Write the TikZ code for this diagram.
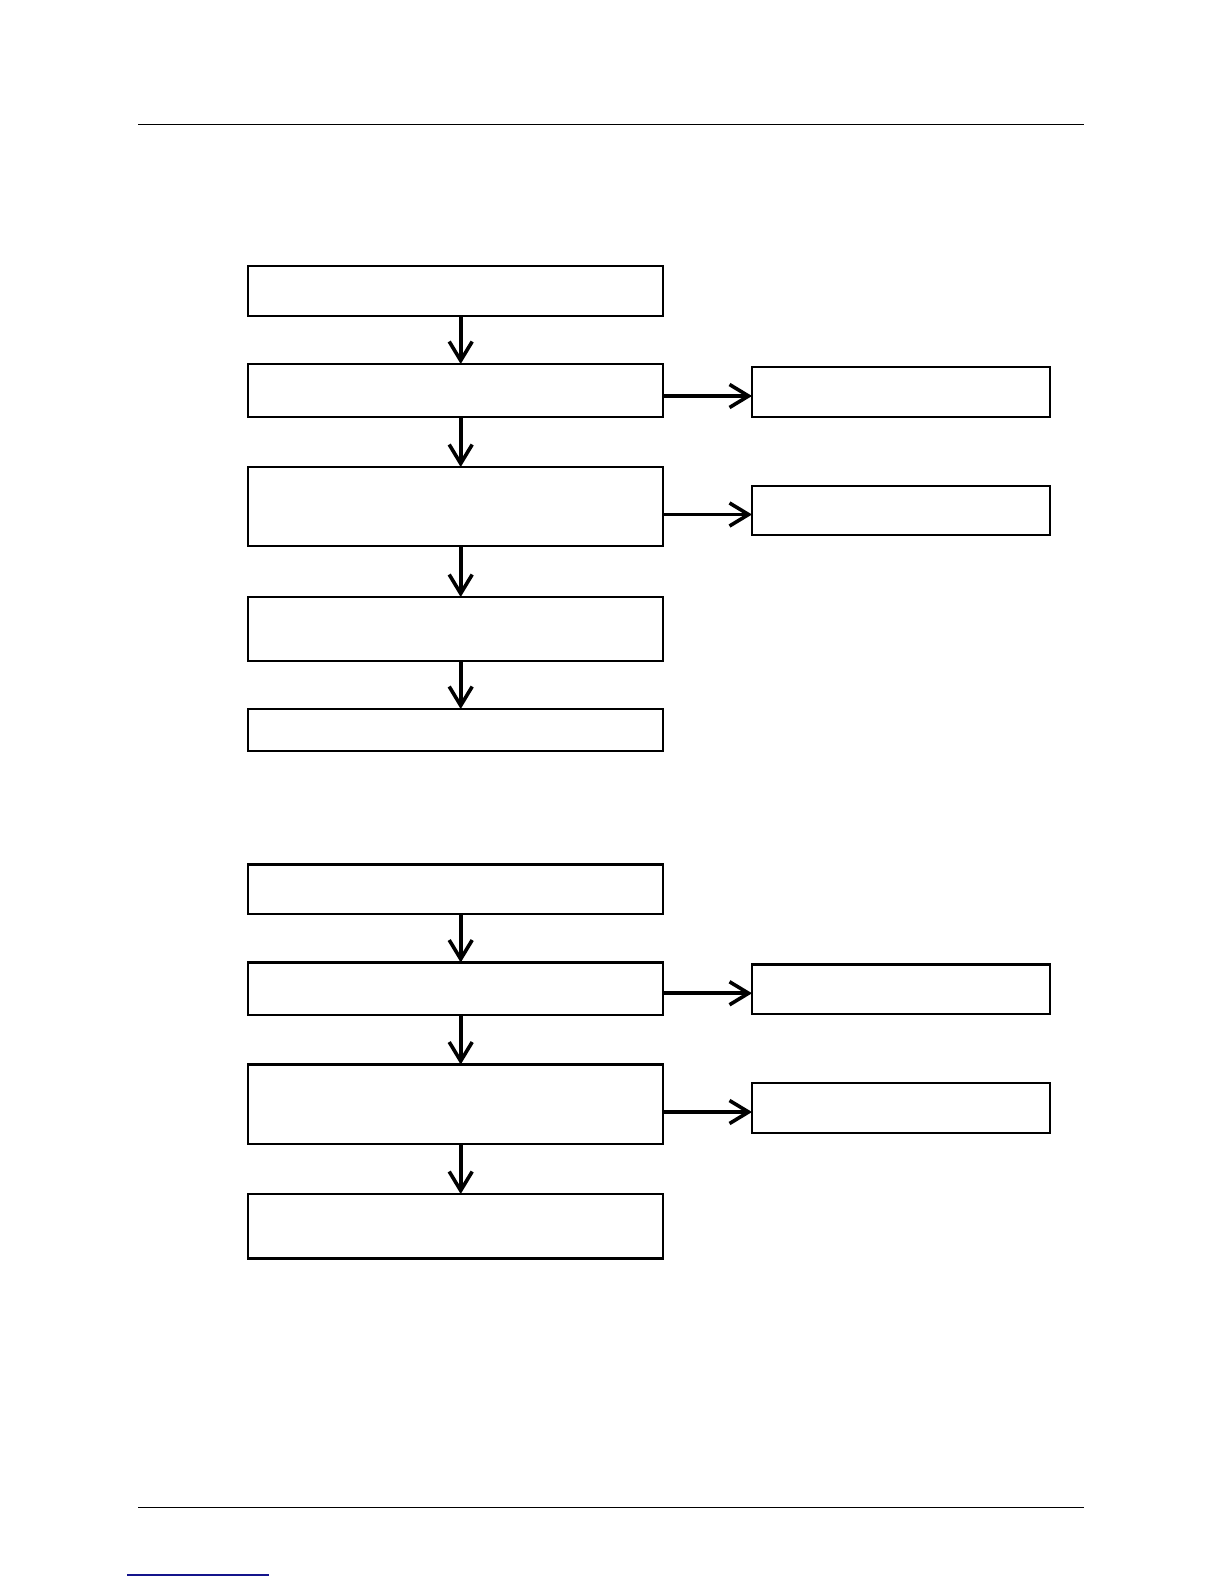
\documentclass[tikz,border=0pt]{standalone}
\usetikzlibrary{arrows.meta}
\begin{document}
\begin{tikzpicture}[x=0.5pt,y=-0.5pt,
  box/.style={draw,line width=1.1pt,anchor=north west,inner sep=0pt,outer sep=0pt},
  arr/.style={line width=1.8pt,-{Straight Barb[length=9.5pt,width=11.5pt,line width=1.8pt]}},
  rule/.style={line width=0.8pt}]
\useasboundingbox (0,0) rectangle (1224,1584);
% header / footer rules
\coordinate (hl) at (138,124.5); \coordinate (hr) at (1084,124.5);
\coordinate (fl) at (138,1507.5); \coordinate (fr) at (1084,1507.5);
\coordinate (ul) at (127,1575); \coordinate (ur) at (269,1575);
\draw[rule] (hl) -- (hr);
\draw[rule] (fl) -- (fr);
\draw[line width=0.7pt,color={rgb,255:red,20;green,20;blue,140}] (ul) -- (ur);
% upper group
\node[box,minimum width=207.5pt,minimum height=25pt] (b1) at (248,266) {};
\node[box,minimum width=207.5pt,minimum height=26.5pt] (b2) at (248,364) {};
\node[box,minimum width=207.5pt,minimum height=39.5pt] (b3) at (248,467) {};
\node[box,minimum width=207.5pt,minimum height=32pt] (b4) at (248,597) {};
\node[box,minimum width=207.5pt,minimum height=21pt] (b5) at (248,709) {};
\node[box,minimum width=149pt,minimum height=25pt] (r1) at (752,367) {};
\node[box,minimum width=149pt,minimum height=24.5pt] (r2) at (752,486) {};
\foreach \a/\b in {b1/b2,b2/b3,b3/b4,b4/b5}
  \draw[arr] ([xshift=2.6pt]\a.south) -- ([xshift=2.6pt]\b.north);
\draw[arr] ([yshift=-2pt]r1.west -| b2.east) -- ([yshift=-2pt]r1.west);
\draw[arr] ([yshift=-2pt]r2.west -| b3.east) -- ([yshift=-2pt]r2.west);
% lower group
\node[box,minimum width=207.5pt,minimum height=24.75pt] (c1) at (248,864.5) {};
\node[box,minimum width=207.5pt,minimum height=26.25pt] (c2) at (248,962.5) {};
\node[box,minimum width=207.5pt,minimum height=39.75pt] (c3) at (248,1064.5) {};
\node[box,minimum width=207.5pt,minimum height=32.25pt] (c4) at (248,1194) {};
\node[box,minimum width=149pt,minimum height=24.75pt] (s1) at (752,964.5) {};
\node[box,minimum width=149pt,minimum height=25pt] (s2) at (752,1083) {};
\foreach \a/\b in {c1/c2,c2/c3,c3/c4}
  \draw[arr] ([xshift=2.6pt]\a.south) -- ([xshift=2.6pt]\b.north);
\draw[arr] ([yshift=-2pt]s1.west -| c2.east) -- ([yshift=-2pt]s1.west);
\draw[arr] ([yshift=-2pt]s2.west -| c3.east) -- ([yshift=-2pt]s2.west);
\end{tikzpicture}
\end{document}
